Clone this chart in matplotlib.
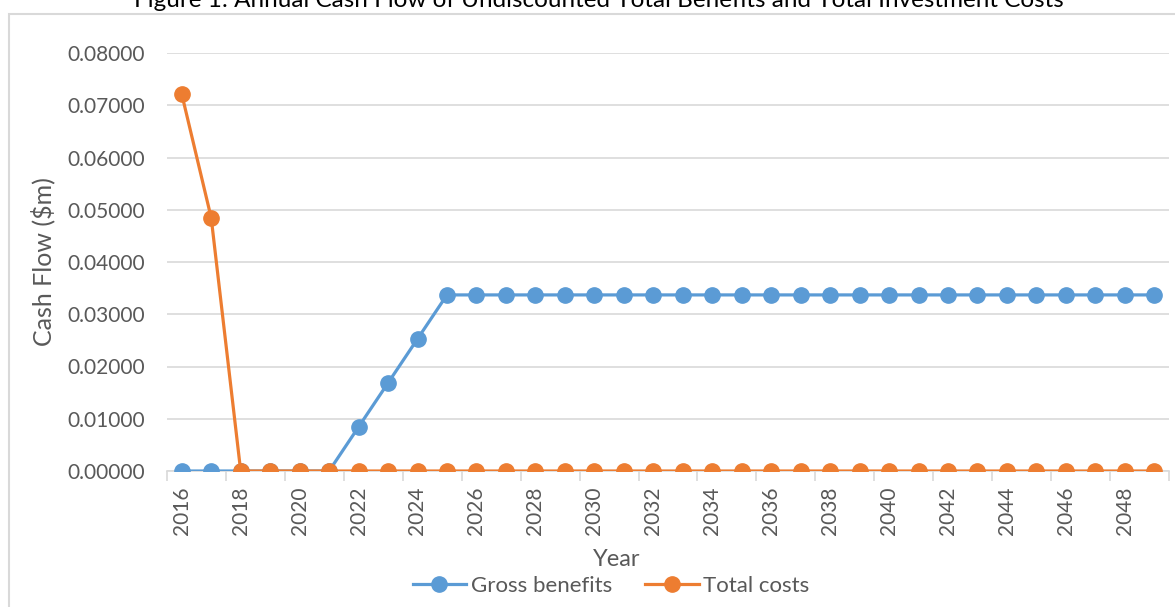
import matplotlib
matplotlib.use("Agg")
import matplotlib.pyplot as plt
from matplotlib.patches import Rectangle

plt.rcParams['font.family'] = ['Lato', 'DejaVu Sans']

# annual cash flow ($m)
years = list(range(2016, 2050))
gross_benefits = [0.0, 0.0, 0.0, 0.0, 0.0, 0.0, 0.00843, 0.01685, 0.02528] + [0.03370] * 25
total_costs = [0.07215, 0.04845] + [0.0] * 32
year_labels = [str(y) if (y - 2016) % 2 == 0 else "" for y in years]

W, H = 1175, 607
fig = plt.figure(figsize=(W / 100, H / 100), dpi=100)

# chart frame
fig.patches.append(Rectangle((9 / W, -0.1), 1.2, 1.1 - 14 / H, transform=fig.transFigure,
                             fill=False, edgecolor="#d9d9d9", linewidth=1.5))

ax = fig.add_axes([167 / W, 1 - 471 / H, (1169 - 167) / W, (471 - 53) / H])

x = list(range(len(years)))
ax.plot(x, gross_benefits, color="#5b9bd5", linewidth=2.3, marker="o", markersize=11,
        label="Gross benefits", zorder=3)
ax.plot(x, total_costs, color="#ed7d31", linewidth=2.3, marker="o", markersize=11,
        label="Total costs", zorder=4)

ax.set_xlim(-0.5, len(years) - 0.5)
ax.set_ylim(0, 0.08)
ax.set_yticks([i * 0.01 for i in range(9)])
ax.set_yticklabels([f"{i * 0.01:.5f}" for i in range(9)])

ax.set_xticks(x)
ax.set_xticklabels(year_labels, rotation=90)
ax.tick_params(axis="x", length=0, pad=11)
# tick marks between category pairs
ax.set_xticks([i - 0.5 for i in range(0, len(years) + 1, 2)], minor=True)
ax.tick_params(axis="x", which="minor", length=7, color="#d9d9d9", width=1.2)
ax.tick_params(axis="y", length=0, pad=16)
ax.tick_params(labelsize=15, labelcolor="#595959")

ax.grid(axis="y", color="#d9d9d9", linewidth=1.2)
ax.set_axisbelow(True)
for side in ("top", "right", "left"):
    ax.spines[side].set_visible(False)
ax.spines["bottom"].set_color("#d9d9d9")
ax.spines["bottom"].set_linewidth(1.2)

fig.text(43 / W, 1 - 262 / H, "Cash Flow ($m)", rotation=90, ha="center", va="center",
         fontsize=18, color="#595959")
fig.text(617 / W, 1 - 560 / H, "Year", ha="center", va="center", fontsize=17, color="#595959")
fig.text(599 / W, 1 - 7 / H, "Figure 1: Annual Cash Flow of Undiscounted Total Benefits and Total Investment Costs",
         ha="center", va="baseline", fontsize=17.5, color="#000000")

fig.legend(loc="center", bbox_to_anchor=(611 / W, 1 - 586 / H), ncol=2, frameon=False,
           fontsize=16, labelcolor="#595959", handlelength=2.4, columnspacing=1.5,
           handletextpad=0.2, borderpad=0, borderaxespad=0)

fig.savefig("out.png", dpi=100)
